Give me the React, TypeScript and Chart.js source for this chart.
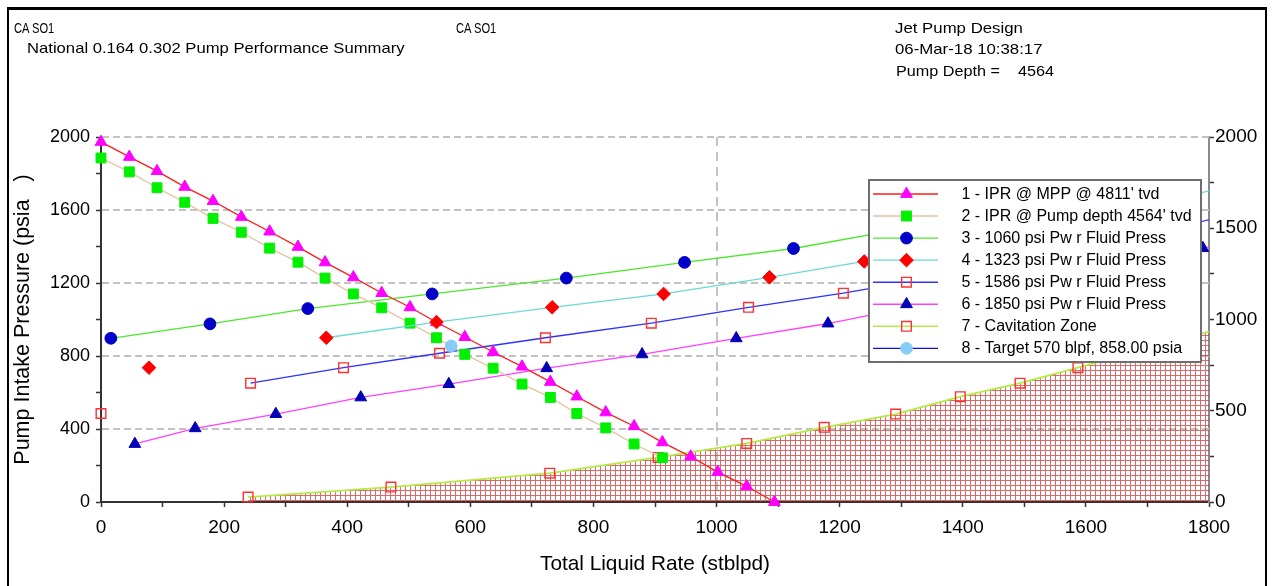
import React, { useEffect, useRef } from 'react';
import { Chart, registerables } from 'chart.js';

Chart.register(...registerables);

// ---------------- data ----------------
const IPR_RATE = [0, 46, 91, 136, 182, 228, 274, 320, 364, 410, 456, 502, 545, 591, 637, 684, 730, 773, 820, 866, 912, 958, 1002, 1049, 1094];
const IPR_MPP_PRESS = [1973, 1891, 1813, 1727, 1649, 1562, 1482, 1398, 1313, 1231, 1145, 1067, 985, 904, 822, 742, 658, 578, 491, 415, 327, 249, 164, 86, 0];
const IPR_PUMP_PRESS = [1885, 1809, 1722, 1642, 1554, 1478, 1391, 1314, 1227, 1140, 1064, 980, 900, 809, 733, 646, 573, 485, 406, 318, 242];

const PF1060_RATE = [16, 177, 336, 538, 756, 948, 1125, 1300, 1470];
const PF1060_PRESS = [897, 976, 1060, 1140, 1227, 1313, 1389, 1495, 1600];

const PF1323_RATE = [366, 545, 733, 914, 1086, 1240, 1400, 1560, 1720, 1880];
const PF1323_PRESS = [900, 986, 1067, 1140, 1231, 1318, 1420, 1520, 1640, 1770];
const PF1323_OFF_RATE = [78];
const PF1323_OFF_PRESS = [736];

const PF1586_RATE = [243, 394, 550, 722, 894, 1052, 1206, 1370, 1530, 1690, 1860];
const PF1586_PRESS = [651, 736, 815, 900, 980, 1067, 1144, 1240, 1340, 1450, 1600];
const PF1586_OFF_RATE = [0];
const PF1586_OFF_PRESS = [485];

const PF1850_RATE = [55, 153, 284, 422, 565, 724, 879, 1032, 1181, 1340, 1500, 1650, 1790, 1900];
const PF1850_PRESS = [318, 404, 482, 573, 646, 733, 809, 897, 978, 1085, 1190, 1290, 1391, 1470];

const CAV_RATE = [239, 471, 729, 905, 1049, 1175, 1291, 1396, 1493, 1587, 1680, 1770, 1860];
const CAV_PRESS = [27, 82, 158, 244, 321, 409, 482, 577, 651, 736, 822, 905, 990];

const TARGET_RATE = [569];
const TARGET_PRESS = [855];

const Y_GRID_VALUES = [400, 800, 1200, 1600, 2000];
const X_GRID_VALUES = [1000];

const LEGEND_LABELS = [
  "1 - IPR @ MPP @ 4811' tvd",
  "2 - IPR @ Pump depth 4564' tvd",
  '3 - 1060 psi Pw r Fluid Press',
  '4 - 1323 psi Pw r Fluid Press',
  '5 - 1586 psi Pw r Fluid Press',
  '6 - 1850 psi Pw r Fluid Press',
  '7 - Cavitation Zone',
  '8 - Target 570 blpf, 858.00 psia',
];

// ---------------- styles ----------------
const FONT = "'Liberation Sans', Arial, sans-serif";

const STYLES = [
  { line: '#ff1a1a', marker: 'triangle', fill: '#ff00ff', stroke: '#ff00ff', r: 6.8, w: 1.3 },
  { line: '#e2c3a0', marker: 'rect', fill: '#00f000', stroke: '#00f000', r: 7.0, w: 1.3 },
  { line: '#4be82a', marker: 'circle', fill: '#0000c8', stroke: '#0000c8', r: 5.9, w: 1.3 },
  { line: '#6cd8d8', marker: 'rectRot', fill: '#ff0000', stroke: '#ff0000', r: 6.8, w: 1.3 },
  { line: '#3030ff', marker: 'rect', fill: 'rgba(0,0,0,0)', stroke: '#ff3030', r: 6.8, w: 1.3 },
  { line: '#ff40ff', marker: 'triangle', fill: '#0000b4', stroke: '#0000b4', r: 6.8, w: 1.3 },
  { line: '#b2ec46', marker: 'rect', fill: 'rgba(0,0,0,0)', stroke: '#ff3030', r: 6.8, w: 1.8 },
  { line: '#1010c8', marker: 'circle', fill: '#88ccf6', stroke: '#88ccf6', r: 5.9, w: 1.3 },
];

const pts = (xs: number[], ys: number[]) => xs.map((x, i) => ({ x, y: ys[i] }));

function drawMarker(ctx: CanvasRenderingContext2D, style: string, x: number, y: number, r: number, fill: string, stroke: string, lw: number) {
  ctx.beginPath();
  if (style === 'triangle') {
    ctx.moveTo(x, y - r);
    ctx.lineTo(x + r * Math.sin(Math.PI * 2 / 3), y + r * 0.5);
    ctx.lineTo(x - r * Math.sin(Math.PI * 2 / 3), y + r * 0.5);
    ctx.closePath();
  } else if (style === 'rect') {
    const s = r * Math.SQRT1_2;
    ctx.rect(x - s, y - s, 2 * s, 2 * s);
  } else if (style === 'rectRot') {
    ctx.moveTo(x - r, y);
    ctx.lineTo(x, y - r);
    ctx.lineTo(x + r, y);
    ctx.lineTo(x, y + r);
    ctx.closePath();
  } else {
    ctx.arc(x, y, r, 0, Math.PI * 2);
  }
  ctx.fillStyle = fill;
  ctx.fill();
  ctx.lineWidth = lw;
  ctx.strokeStyle = stroke;
  ctx.stroke();
}

const gridPlugin = {
  id: 'dashGrid',
  beforeDatasetsDraw(chart: any) {
    const { ctx, chartArea: a, scales } = chart;
    ctx.save();
    ctx.strokeStyle = '#c2c2c2';
    ctx.lineWidth = 2;
    ctx.setLineDash([7, 4]);
    for (const v of Y_GRID_VALUES) {
      const py = Math.round(scales.y.getPixelForValue(v));
      ctx.beginPath();
      ctx.moveTo(a.left + 1, py);
      ctx.lineTo(a.right, py);
      ctx.stroke();
    }
    ctx.setLineDash([9, 6]);
    for (const v of X_GRID_VALUES) {
      const px = Math.round(scales.x.getPixelForValue(v));
      ctx.beginPath();
      ctx.moveTo(px, a.top);
      ctx.lineTo(px, a.bottom - 1);
      ctx.stroke();
    }
    ctx.restore();
  },
};

const legendPlugin = {
  id: 'boxLegend',
  afterDraw(chart: any) {
    const { ctx } = chart;
    const bx = 869, by = 180, bw = 332, bh = 182;
    ctx.save();
    ctx.fillStyle = '#ffffff';
    ctx.fillRect(bx, by, bw, bh);
    ctx.strokeStyle = '#6e6e6e';
    ctx.lineWidth = 2;
    ctx.strokeRect(bx, by, bw, bh);
    ctx.font = `16px ${FONT}`;
    ctx.textBaseline = 'middle';
    ctx.textAlign = 'left';
    LEGEND_LABELS.forEach((label, i) => {
      const st = STYLES[i];
      const y = by + 14 + i * 22.05;
      ctx.beginPath();
      ctx.strokeStyle = st.line;
      ctx.lineWidth = 1.4;
      ctx.moveTo(873, y);
      ctx.lineTo(938, y);
      ctx.stroke();
      drawMarker(ctx, st.marker, 906.5, y, st.r, st.fill, st.stroke, st.fill.startsWith('rgba') ? 1.4 : 1);
      ctx.fillStyle = '#000';
      ctx.fillText(label, 961.5, y + 0.5);
    });
    ctx.restore();
  },
};

function makeHatch(): any {
  const c = document.createElement('canvas');
  c.width = 5;
  c.height = 5;
  const g = c.getContext('2d');
  if (!g) return 'rgba(220,90,90,0.5)';
  g.fillStyle = 'rgba(205,35,35,0.68)';
  g.fillRect(0, 0, 1, 5);
  g.fillRect(1, 0, 4, 1);
  return g.createPattern(c, 'repeat') || 'rgba(220,90,90,0.5)';
}

export default function App() {
  const canvasRef = useRef<HTMLCanvasElement | null>(null);

  useEffect(() => {
    document.body.style.margin = '0';
    const canvas = canvasRef.current;
    if (!canvas) return;
    Chart.defaults.font.family = FONT;
    const clip = { left: 12, top: 12, right: 0, bottom: 12 };

    const lineSet = (idx: number, data: any[], order: number, extra: any = {}) => {
      const st = STYLES[idx];
      return {
        data,
        order,
        clip,
        tension: 0,
        fill: false,
        borderColor: st.line,
        borderWidth: st.w,
        pointStyle: st.marker,
        pointRadius: st.r,
        pointBackgroundColor: st.fill,
        pointBorderColor: st.stroke,
        pointBorderWidth: st.fill.startsWith('rgba') ? 1.4 : 1,
        ...extra,
      };
    };

    const chart = new Chart(canvas, {
      type: 'line',
      data: {
        datasets: [
          lineSet(7, pts(TARGET_RATE, TARGET_PRESS), 0, { showLine: false }),
          lineSet(3, pts(PF1323_RATE, PF1323_PRESS), 1),
          lineSet(3, pts(PF1323_OFF_RATE, PF1323_OFF_PRESS), 1, { showLine: false }),
          lineSet(0, pts(IPR_RATE, IPR_MPP_PRESS), 3),
          lineSet(1, pts(IPR_RATE.slice(0, IPR_PUMP_PRESS.length), IPR_PUMP_PRESS), 4),
          lineSet(2, pts(PF1060_RATE, PF1060_PRESS), 5),
          lineSet(4, pts(PF1586_RATE, PF1586_PRESS), 6),
          lineSet(4, pts(PF1586_OFF_RATE, PF1586_OFF_PRESS), 6, { showLine: false }),
          lineSet(5, pts(PF1850_RATE, PF1850_PRESS), 7),
          lineSet(6, pts(CAV_RATE, CAV_PRESS), 10, { fill: 'origin', backgroundColor: makeHatch() }),
        ] as any,
      },
      options: {
        animation: false,
        responsive: false,
        devicePixelRatio: 1,
        events: [],
        layout: { padding: { top: 137, left: 0, right: 0, bottom: 0 } },
        plugins: { legend: { display: false }, tooltip: { enabled: false } },
        scales: {
          x: {
            type: 'linear',
            min: 0,
            max: 1800,
            ticks: {
              stepSize: 100,
              autoSkip: false,
              maxRotation: 0,
              callback: (v: any) => (Number(v) % 200 === 0 ? String(v) : ''),
              font: { size: 19 },
              color: '#000',
              padding: 9,
            },
            grid: { drawOnChartArea: false, drawTicks: true, tickLength: 5, tickColor: '#333', tickWidth: 1.5 },
            border: { display: true, color: '#333', width: 2 },
            title: { display: true, text: 'Total Liquid Rate (stblpd)', font: { size: 20.8 }, color: '#000', padding: { top: 0, bottom: 9 } },
            afterFit: (s: any) => { s.height = 84; },
          },
          y: {
            type: 'linear',
            position: 'left',
            min: 0,
            max: 2000,
            ticks: {
              stepSize: 200,
              autoSkip: false,
              callback: (v: any) => (Number(v) % 400 === 0 ? String(v) : ''),
              font: { size: 18 },
              color: '#000',
              padding: 6,
            },
            grid: { drawOnChartArea: false, drawTicks: true, tickLength: 5, tickColor: '#333', tickWidth: 1.5 },
            border: { display: true, color: '#333', width: 2 },
            title: { display: true, text: 'Pump Intake Pressure (psia   )', font: { size: 21.5 }, color: '#000', padding: { top: 10, bottom: 0 } },
            afterFit: (s: any) => { s.width = 101; },
          },
          y2: {
            type: 'linear',
            position: 'right',
            min: 0,
            max: 2000,
            ticks: {
              stepSize: 250,
              autoSkip: false,
              callback: (v: any) => (Number(v) % 500 === 0 ? String(v) : ''),
              font: { size: 19 },
              color: '#000',
              padding: 1,
            },
            grid: { drawOnChartArea: false, drawTicks: true, tickLength: 5, tickColor: '#333', tickWidth: 1.5 },
            border: { display: true, color: '#8a8a8a', width: 2 },
            afterFit: (s: any) => { s.width = 64; },
          },
        },
      } as any,
      plugins: [gridPlugin, legendPlugin],
    });
    return () => chart.destroy();
  }, []);

  const head: React.CSSProperties = {
    position: 'absolute',
    fontFamily: FONT,
    fontSize: 15,
    lineHeight: '15px',
    whiteSpace: 'pre',
    color: '#000',
    transformOrigin: 'left top',
  };

  return (
    <div style={{ position: 'relative', width: 1273, height: 586, overflow: 'hidden', background: '#fff' }}>
      <canvas ref={canvasRef} width={1273} height={586} style={{ position: 'absolute', left: 0, top: 0 }} />
      <div style={{ position: 'absolute', left: 7, top: 7, width: 1260, height: 600, borderTop: '3px solid #000', borderLeft: '2px solid #000', borderRight: '2px solid #000', boxSizing: 'border-box' }} />
      <div style={{ ...head, left: 14, top: 19.5, fontSize: 15.5, transform: 'scaleX(0.72)' }}>CA SO1</div>
      <div style={{ ...head, left: 456, top: 19.5, fontSize: 15.5, transform: 'scaleX(0.72)' }}>CA SO1</div>
      <div style={{ ...head, left: 27, top: 40, transform: 'scaleX(1.11)' }}>National 0.164 0.302 Pump Performance Summary</div>
      <div style={{ ...head, left: 895, top: 19.5, transform: 'scaleX(1.12)' }}>Jet Pump Design</div>
      <div style={{ ...head, left: 895, top: 40.5, transform: 'scaleX(1.12)' }}>06-Mar-18 10:38:17</div>
      <div style={{ ...head, left: 896, top: 63, transform: 'scaleX(1.08)' }}>Pump Depth =    4564</div>
    </div>
  );
}
